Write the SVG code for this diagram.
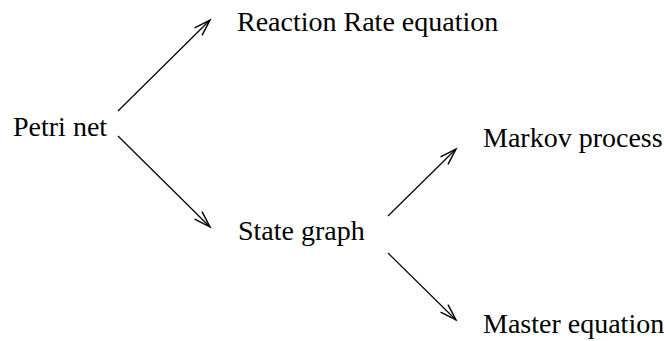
<svg xmlns="http://www.w3.org/2000/svg" width="664" height="341" viewBox="0 0 664 341">
<style>
text { font-family: "Liberation Serif", "Times New Roman", serif; font-size: 28px; fill: #000; }
.edge { stroke: #000; stroke-width: 1.2; fill: none; marker-end: url(#arr); }
</style>
<defs>
<marker id="arr" markerUnits="userSpaceOnUse" markerWidth="20" markerHeight="20" refX="0" refY="0" viewBox="-15 -8 17 16" orient="auto" overflow="visible">
<path d="M -14,-4.5 L 0,0 L -14,4.5" stroke="#000" stroke-width="1.2" fill="none"/>
</marker>
</defs>
<rect width="664" height="341" fill="#fff"/>
<g id="connectors">
<line class="edge" x1="118" y1="111" x2="210" y2="20"/>
<line class="edge" x1="118" y1="136" x2="210" y2="227"/>
<line class="edge" x1="388" y1="216" x2="456" y2="149"/>
<line class="edge" x1="388" y1="253" x2="456" y2="320"/>
</g>
<g id="petri"><text x="13" y="136">Petri net</text></g>
<g id="reaction"><text x="237" y="31">Reaction Rate equation</text></g>
<g id="state"><text x="238" y="240">State graph</text></g>
<g id="markov"><text x="483" y="147">Markov process</text></g>
<g id="master"><text x="483" y="333">Master equation</text></g>
</svg>
